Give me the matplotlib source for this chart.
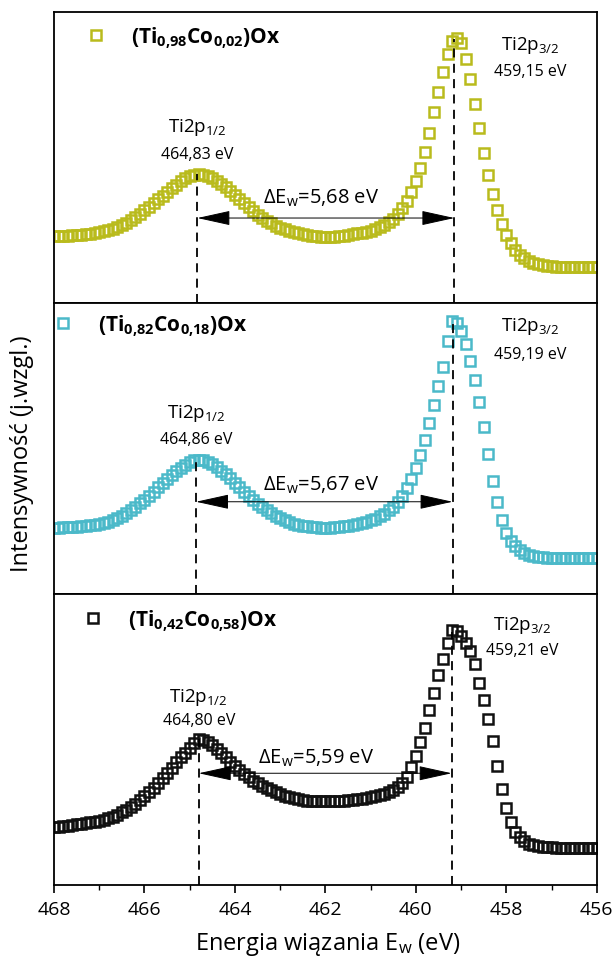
import numpy as np
import matplotlib.pyplot as plt

plt.rcParams['font.family'] = ['Open Sans', 'DejaVu Sans']
plt.rcParams['mathtext.fontset'] = 'custom'
plt.rcParams['mathtext.rm'] = 'Open Sans'
plt.rcParams['mathtext.it'] = 'Open Sans:italic'
plt.rcParams['mathtext.bf'] = 'Open Sans:bold'

# binding energy grid, 468 -> 456 eV in 0.1 eV steps
energy = np.round(np.arange(468.0, 455.95, -0.1), 1)

# relative intensities (% of panel height)
int_ti98 = [
    23.0, 23.0, 23.1, 23.1, 23.2, 23.3, 23.4, 23.6, 23.8, 24.0,
    24.3, 24.6, 25.0, 25.5, 26.1, 26.8, 27.6, 28.5, 29.5, 30.6,
    31.8, 33.0, 34.3, 35.6, 36.9, 38.2, 39.5, 40.7, 41.8, 42.8,
    43.6, 44.1, 44.3, 44.1, 43.6, 42.9, 42.0, 40.9, 39.7, 38.4,
    37.0, 35.6, 34.2, 32.9, 31.6, 30.4, 29.3, 28.3, 27.4, 26.6,
    25.9, 25.3, 24.8, 24.3, 23.9, 23.6, 23.3, 23.1, 22.9, 22.8,
    22.7, 22.7, 22.8, 22.9, 23.1, 23.3, 23.6, 23.9, 24.2, 24.5,
    24.8, 25.3, 26.0, 26.8, 27.8, 29.0, 30.5, 32.5, 35.0, 38.0,
    41.8, 46.5, 52.0, 58.5, 65.5, 72.5, 79.5, 85.5, 90.2, 91.0,
    89.2, 84.0, 77.0, 68.5, 60.0, 51.5, 44.0, 37.5, 32.0, 27.3,
    23.5, 20.5, 18.3, 16.6, 15.3, 14.4, 13.8, 13.3, 13.0, 12.8,
    12.6, 12.5, 12.5, 12.4, 12.4, 12.4, 12.4, 12.4, 12.4, 12.4,
    12.4,
]
int_ti82 = [
    22.8, 22.8, 22.9, 22.9, 23.0, 23.1, 23.2, 23.4, 23.6, 23.8,
    24.1, 24.5, 24.9, 25.5, 26.1, 26.9, 27.8, 28.8, 29.9, 31.1,
    32.4, 33.8, 35.2, 36.6, 38.0, 39.4, 40.8, 42.1, 43.3, 44.4,
    45.3, 45.9, 46.1, 45.9, 45.4, 44.6, 43.6, 42.4, 41.1, 39.7,
    38.2, 36.7, 35.2, 33.7, 32.3, 31.0, 29.8, 28.7, 27.7, 26.8,
    26.0, 25.3, 24.7, 24.2, 23.8, 23.5, 23.2, 23.0, 22.9, 22.8,
    22.8, 22.8, 22.9, 23.0, 23.2, 23.4, 23.7, 24.0, 24.4, 24.8,
    25.3, 25.9, 26.7, 27.6, 28.7, 30.0, 31.7, 33.8, 36.4, 39.6,
    43.4, 47.9, 53.0, 58.7, 64.9, 71.4, 78.0, 87.0, 93.8, 93.2,
    90.5, 86.0, 80.0, 73.5, 66.0, 57.5, 48.0, 39.0, 31.5, 25.5,
    21.0, 18.2, 16.4, 15.0, 14.1, 13.5, 13.1, 12.8, 12.6, 12.5,
    12.4, 12.4, 12.4, 12.4, 12.4, 12.4, 12.4, 12.4, 12.4, 12.4,
    12.4,
]
int_ti42 = [
    19.9, 20.0, 20.2, 20.4, 20.6, 20.8, 21.0, 21.3, 21.5, 21.7,
    22.0, 22.4, 22.9, 23.5, 24.2, 25.0, 25.9, 26.9, 28.0, 29.2,
    30.5, 31.9, 33.4, 35.0, 36.7, 38.5, 40.3, 42.1, 43.9, 45.5,
    47.2, 48.9, 50.0, 49.7, 49.0, 48.0, 46.8, 45.4, 43.9, 42.4,
    40.9, 39.5, 38.2, 37.0, 35.9, 34.9, 34.0, 33.2, 32.5, 31.8,
    31.2, 30.7, 30.2, 29.8, 29.5, 29.2, 29.0, 28.9, 28.8, 28.8,
    28.8, 28.8, 28.8, 28.9, 29.0, 29.1, 29.3, 29.5, 29.7, 29.9,
    30.2, 30.5, 30.9, 31.4, 32.0, 32.8, 33.8, 35.2, 37.2, 40.5,
    44.5, 49.0, 54.0, 60.0, 66.0, 72.0, 77.5, 83.0, 87.5, 87.2,
    85.5, 83.0, 80.5, 76.0, 69.5, 63.5, 57.0, 49.5, 41.0, 33.0,
    26.5, 21.5, 18.3, 16.5, 15.1, 14.2, 13.6, 13.3, 13.1, 13.0,
    12.9, 12.8, 12.8, 12.8, 12.8, 12.8, 12.8, 12.8, 12.8, 12.8,
    12.8,
]

samples = [r'$\mathbf{(Ti_{0{,}98}Co_{0{,}02})Ox}$',
           r'$\mathbf{(Ti_{0{,}82}Co_{0{,}18})Ox}$',
           r'$\mathbf{(Ti_{0{,}42}Co_{0{,}58})Ox}$']
series = [int_ti98, int_ti82, int_ti42]
colors = ['#b9bb1c', '#4bb9c9', '#111111']
peak_12 = [464.83, 464.86, 464.80]
peak_32 = [459.15, 459.19, 459.21]
delta_e = [5.68, 5.67, 5.59]

# layout of the annotations in each panel (x in eV, y in % of panel)
arrow_y = [29.2, 31.7, 38.4]
lab12_y = [(60.8, 51.2), (62.4, 53.1), (64.7, 56.8)]
lab32_xy = [(457.48, 89.0, 79.7), (457.48, 92.1, 82.4), (457.64, 89.4, 80.8)]
dE_xy = [(462.1, 36.4), (462.1, 37.6), (462.2, 43.8)]
legend_anchor = [(0.0577, 0.914), (-0.003, 0.924), (0.0521, 0.911)]


def fmt(v):
    return ('%.2f' % v).replace('.', ',')


fig, axes = plt.subplots(3, 1, figsize=(6.14, 9.70), dpi=100, sharex=True)
fig.subplots_adjust(left=0.088, right=0.972, bottom=0.0866, top=0.9866, hspace=0)

for i, ax in enumerate(axes):
    y = np.array(series[i])
    ax.plot(energy, y, ls='none', marker='s', ms=7.6, mfc='none', mec=colors[i],
            mew=1.8, label=samples[i])

    # dashed markers of peak positions
    tops = np.interp([peak_12[i], peak_32[i]], energy[::-1], y[::-1])
    ax.vlines([peak_12[i], peak_32[i]], 0, tops, colors='black', lw=1.3,
              linestyles=(0, (5, 3.5)))

    # splitting arrow
    ax.annotate('', xy=(peak_12[i], arrow_y[i]), xytext=(peak_32[i], arrow_y[i]),
                arrowprops=dict(arrowstyle='<|-|>,head_length=1.0,head_width=0.22',
                                mutation_scale=21, lw=0.7, color='black',
                                shrinkA=0, shrinkB=0))
    ax.text(dE_xy[i][0], dE_xy[i][1], r'ΔE$_{\mathrm{w}}$=' + fmt(delta_e[i]) + ' eV',
            ha='center', va='center', fontsize=14.5)

    ax.text(peak_12[i], lab12_y[i][0], r'Ti2p$_{1/2}$', ha='center', va='center', fontsize=13.5)
    ax.text(peak_12[i], lab12_y[i][1], fmt(peak_12[i]) + ' eV', ha='center', va='center',
            fontsize=11.5)
    ax.text(lab32_xy[i][0], lab32_xy[i][1], r'Ti2p$_{3/2}$', ha='center', va='center', fontsize=13.5)
    ax.text(lab32_xy[i][0], lab32_xy[i][2], fmt(peak_32[i]) + ' eV', ha='center', va='center',
            fontsize=11.5)

    ax.legend(loc='center left', bbox_to_anchor=legend_anchor[i], frameon=False,
              borderpad=0, borderaxespad=0, handlelength=1.0, handletextpad=1.2,
              fontsize=15)

    ax.set_ylim(0, 100)
    ax.set_xlim(468, 456)
    ax.set_yticks([])
    for s in ax.spines.values():
        s.set_linewidth(1.3)
    ax.tick_params(axis='x', which='major', direction='out', length=6, width=1.2,
                   labelsize=14, pad=5, bottom=(i == 2), labelbottom=(i == 2))
    ax.tick_params(axis='x', which='minor', direction='out', length=3.5, width=1.0,
                   bottom=(i == 2))

axes[2].set_xticks(np.arange(468, 455, -2))
axes[2].set_xticks(np.arange(467, 456, -2), minor=True)

fig.text(0.036, 0.532, 'Intensywność (j.wzgl.)', rotation=90, ha='center', va='center',
         fontsize=17)
fig.text(0.533, 0.026, r'Energia wiązania E$_{\mathrm{w}}$ (eV)', ha='center', va='center',
         fontsize=17)

fig.savefig('out.png', dpi=100)
